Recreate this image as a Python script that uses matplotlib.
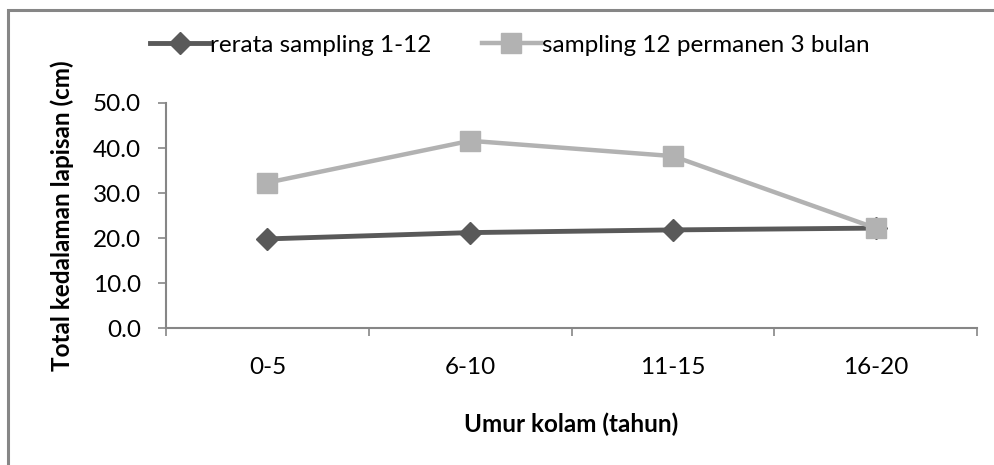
import matplotlib.pyplot as plt
import numpy as np
from matplotlib.patches import Rectangle

plt.rcParams['font.family'] = ['Lato', 'DejaVu Sans']

categories = ["0-5", "6-10", "11-15", "16-20"]
rerata = [19.8, 21.2, 21.8, 22.2]
permanen = [32.3, 41.6, 38.2, 22.2]
labels = ["rerata sampling 1-12", "sampling 12 permanen 3 bulan"]

axis_color = "#868686"
dark = "#595959"
light = "#b2b2b2"
fs = 17.5

fig = plt.figure(figsize=(9.94, 4.65), dpi=100)
ax = fig.add_axes([0.167, 0.2946, 0.816, 0.4839])

x = np.arange(len(categories))
ax.plot(x, rerata, color=dark, lw=3.5, marker="D", ms=11, mec=dark, mfc=dark,
        label=labels[0], zorder=3)
ax.plot(x, permanen, color=light, lw=3.2, marker="s", ms=14, mec=light, mfc=light,
        label=labels[1], zorder=4)

ax.set_xlim(-0.5, len(categories) - 0.5)
ax.set_ylim(0, 50)
ax.set_yticks(np.arange(0, 51, 10))
ax.set_yticklabels([f"{v:.1f}" for v in np.arange(0, 51, 10)])

# category labels sit between the boundary ticks
ax.set_xticks(x)
ax.set_xticklabels(categories)
ax.set_xticks(np.arange(-0.5, len(categories)), minor=True)
ax.tick_params(axis="x", which="major", length=0, pad=21, labelsize=fs, colors="black")
ax.tick_params(axis="x", which="minor", length=6, width=1.2, color=axis_color, direction="out")
ax.tick_params(axis="y", length=6, width=1.2, color=axis_color, pad=12, labelsize=fs)

for s in ["top", "right"]:
    ax.spines[s].set_visible(False)
for s in ["left", "bottom"]:
    ax.spines[s].set_color(axis_color)
    ax.spines[s].set_linewidth(1.5)

ax.set_xlabel("Umur kolam (tahun)", fontsize=fs, fontweight="bold", va="center")
ax.set_ylabel("Total kedalaman lapisan (cm)", fontsize=fs, fontweight="bold", va="center")
ax.xaxis.set_label_coords(0.5, -0.427)
ax.yaxis.set_label_coords(-0.128, 0.5)

fig.legend(loc="center", bbox_to_anchor=(0.513, 0.903), ncol=2, frameon=False,
           fontsize=fs, handlelength=2.4, handletextpad=0.05, columnspacing=2.1)

# outer chart frame
fig.patches.append(Rectangle((8 / 994, -0.05), 1.1, 1 - 10 / 465 + 0.05,
                             transform=fig.transFigure, fill=False,
                             edgecolor=axis_color, lw=2.2))

fig.savefig("out.png", dpi=100)
